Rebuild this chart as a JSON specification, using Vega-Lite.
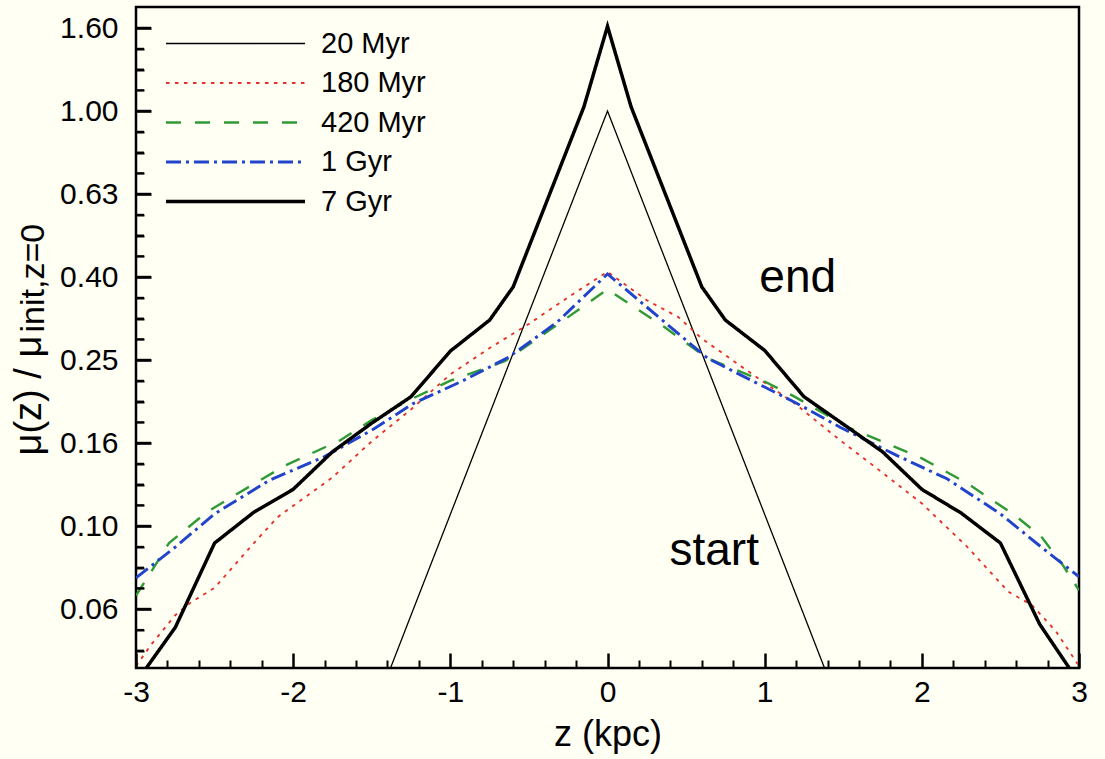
{
  "$schema": "https://vega.github.io/schema/vega-lite/v6.json",
  "width": 943,
  "height": 661,
  "autosize": {"type": "none"},
  "padding": {"left": 136, "top": 7, "right": 26, "bottom": 91},
  "background": "#fffff4",
  "config": {
    "font": "Liberation Sans",
    "view": {"stroke": "#000000", "strokeWidth": 2.5},
    "axis": {"domain": false, "grid": false, "labelColor": "#000000", "titleColor": "#000000", "tickColor": "#000000", "titleFontWeight": "normal", "labelFont": "Liberation Sans", "titleFont": "Liberation Sans"},
    "legend": {"labelFont": "Liberation Sans"}
  },
  "datasets": {
    "curves": [
      {"series": "20 Myr", "z": -1.5, "mu": 0.0348},
      {"series": "20 Myr", "z": -1.25, "mu": 0.061},
      {"series": "20 Myr", "z": -1.0, "mu": 0.1067},
      {"series": "20 Myr", "z": -0.75, "mu": 0.1866},
      {"series": "20 Myr", "z": -0.5, "mu": 0.3266},
      {"series": "20 Myr", "z": -0.25, "mu": 0.571},
      {"series": "20 Myr", "z": 0, "mu": 1.0},
      {"series": "20 Myr", "z": 0.25, "mu": 0.571},
      {"series": "20 Myr", "z": 0.5, "mu": 0.3266},
      {"series": "20 Myr", "z": 0.75, "mu": 0.1866},
      {"series": "20 Myr", "z": 1.0, "mu": 0.1067},
      {"series": "20 Myr", "z": 1.25, "mu": 0.061},
      {"series": "20 Myr", "z": 1.5, "mu": 0.0348},

      {"series": "180 Myr", "z": -3.0, "mu": 0.046},
      {"series": "180 Myr", "z": -2.9, "mu": 0.052},
      {"series": "180 Myr", "z": -2.75, "mu": 0.061},
      {"series": "180 Myr", "z": -2.65, "mu": 0.0655},
      {"series": "180 Myr", "z": -2.5, "mu": 0.071},
      {"series": "180 Myr", "z": -2.25, "mu": 0.091},
      {"series": "180 Myr", "z": -2.1, "mu": 0.105},
      {"series": "180 Myr", "z": -1.75, "mu": 0.131},
      {"series": "180 Myr", "z": -1.5, "mu": 0.16},
      {"series": "180 Myr", "z": -1.25, "mu": 0.191},
      {"series": "180 Myr", "z": -1.0, "mu": 0.232},
      {"series": "180 Myr", "z": -0.75, "mu": 0.2685},
      {"series": "180 Myr", "z": -0.5, "mu": 0.307},
      {"series": "180 Myr", "z": -0.25, "mu": 0.356},
      {"series": "180 Myr", "z": 0, "mu": 0.41},
      {"series": "180 Myr", "z": 0.25, "mu": 0.35},
      {"series": "180 Myr", "z": 0.45, "mu": 0.319},
      {"series": "180 Myr", "z": 0.6, "mu": 0.283},
      {"series": "180 Myr", "z": 0.93, "mu": 0.231},
      {"series": "180 Myr", "z": 1.19, "mu": 0.1975},
      {"series": "180 Myr", "z": 1.48, "mu": 0.161},
      {"series": "180 Myr", "z": 1.7, "mu": 0.139},
      {"series": "180 Myr", "z": 2.0, "mu": 0.1134},
      {"series": "180 Myr", "z": 2.29, "mu": 0.089},
      {"series": "180 Myr", "z": 2.55, "mu": 0.0695},
      {"series": "180 Myr", "z": 2.7, "mu": 0.0645},
      {"series": "180 Myr", "z": 2.85, "mu": 0.056},
      {"series": "180 Myr", "z": 3.0, "mu": 0.046},

      {"series": "420 Myr", "z": -3.0, "mu": 0.068},
      {"series": "420 Myr", "z": -2.9, "mu": 0.078},
      {"series": "420 Myr", "z": -2.79, "mu": 0.091},
      {"series": "420 Myr", "z": -2.55, "mu": 0.108},
      {"series": "420 Myr", "z": -2.35, "mu": 0.12},
      {"series": "420 Myr", "z": -2.05, "mu": 0.14},
      {"series": "420 Myr", "z": -1.7, "mu": 0.161},
      {"series": "420 Myr", "z": -1.5, "mu": 0.18},
      {"series": "420 Myr", "z": -1.24, "mu": 0.203},
      {"series": "420 Myr", "z": -1.0, "mu": 0.224},
      {"series": "420 Myr", "z": -0.65, "mu": 0.25},
      {"series": "420 Myr", "z": -0.35, "mu": 0.3},
      {"series": "420 Myr", "z": 0, "mu": 0.372},
      {"series": "420 Myr", "z": 0.36, "mu": 0.302},
      {"series": "420 Myr", "z": 0.635, "mu": 0.2536},
      {"series": "420 Myr", "z": 1.0, "mu": 0.223},
      {"series": "420 Myr", "z": 1.19, "mu": 0.205},
      {"series": "420 Myr", "z": 1.53, "mu": 0.173},
      {"series": "420 Myr", "z": 1.78, "mu": 0.158},
      {"series": "420 Myr", "z": 2.0, "mu": 0.1456},
      {"series": "420 Myr", "z": 2.29, "mu": 0.1267},
      {"series": "420 Myr", "z": 2.59, "mu": 0.1063},
      {"series": "420 Myr", "z": 2.76, "mu": 0.0943},
      {"series": "420 Myr", "z": 2.89, "mu": 0.0813},
      {"series": "420 Myr", "z": 3.0, "mu": 0.07},

      {"series": "1 Gyr", "z": -3.0, "mu": 0.075},
      {"series": "1 Gyr", "z": -2.75, "mu": 0.089},
      {"series": "1 Gyr", "z": -2.5, "mu": 0.107},
      {"series": "1 Gyr", "z": -2.15, "mu": 0.129},
      {"series": "1 Gyr", "z": -1.8, "mu": 0.147},
      {"series": "1 Gyr", "z": -1.48, "mu": 0.172},
      {"series": "1 Gyr", "z": -1.24, "mu": 0.197},
      {"series": "1 Gyr", "z": -0.93, "mu": 0.223},
      {"series": "1 Gyr", "z": -0.63, "mu": 0.255},
      {"series": "1 Gyr", "z": -0.32, "mu": 0.31},
      {"series": "1 Gyr", "z": 0, "mu": 0.405},
      {"series": "1 Gyr", "z": 0.21, "mu": 0.347},
      {"series": "1 Gyr", "z": 0.635, "mu": 0.254},
      {"series": "1 Gyr", "z": 0.93, "mu": 0.223},
      {"series": "1 Gyr", "z": 1.2, "mu": 0.198},
      {"series": "1 Gyr", "z": 1.48, "mu": 0.173},
      {"series": "1 Gyr", "z": 1.84, "mu": 0.148},
      {"series": "1 Gyr", "z": 2.16, "mu": 0.13},
      {"series": "1 Gyr", "z": 2.5, "mu": 0.107},
      {"series": "1 Gyr", "z": 2.76, "mu": 0.089},
      {"series": "1 Gyr", "z": 3.0, "mu": 0.0755},

      {"series": "7 Gyr", "z": -3.0, "mu": 0.042},
      {"series": "7 Gyr", "z": -2.75, "mu": 0.057},
      {"series": "7 Gyr", "z": -2.5, "mu": 0.091},
      {"series": "7 Gyr", "z": -2.25, "mu": 0.108},
      {"series": "7 Gyr", "z": -2.0, "mu": 0.1226},
      {"series": "7 Gyr", "z": -1.75, "mu": 0.151},
      {"series": "7 Gyr", "z": -1.5, "mu": 0.177},
      {"series": "7 Gyr", "z": -1.25, "mu": 0.205},
      {"series": "7 Gyr", "z": -1.0, "mu": 0.264},
      {"series": "7 Gyr", "z": -0.75, "mu": 0.3135},
      {"series": "7 Gyr", "z": -0.6, "mu": 0.377},
      {"series": "7 Gyr", "z": -0.15, "mu": 1.024},
      {"series": "7 Gyr", "z": 0, "mu": 1.6},
      {"series": "7 Gyr", "z": 0.15, "mu": 1.024},
      {"series": "7 Gyr", "z": 0.6, "mu": 0.377},
      {"series": "7 Gyr", "z": 0.75, "mu": 0.3135},
      {"series": "7 Gyr", "z": 1.0, "mu": 0.265},
      {"series": "7 Gyr", "z": 1.25, "mu": 0.205},
      {"series": "7 Gyr", "z": 1.5, "mu": 0.176},
      {"series": "7 Gyr", "z": 1.75, "mu": 0.151},
      {"series": "7 Gyr", "z": 2.0, "mu": 0.1226},
      {"series": "7 Gyr", "z": 2.25, "mu": 0.1075},
      {"series": "7 Gyr", "z": 2.5, "mu": 0.091},
      {"series": "7 Gyr", "z": 2.75, "mu": 0.058},
      {"series": "7 Gyr", "z": 3.0, "mu": 0.042}
    ],
    "notes": [
      {"label": "end", "z": 1.21, "mu": 0.366},
      {"label": "start", "z": 0.679, "mu": 0.0805}
    ],
    "yMajorTicks": [
      {"tick": 0.0631}, {"tick": 0.1}, {"tick": 0.1585}, {"tick": 0.2512}, {"tick": 0.3981}, {"tick": 0.631}, {"tick": 1}, {"tick": 1.585}
    ],
    "yMinorTicks": [
      {"tick": 1.4125}, {"tick": 1.2589}, {"tick": 1.122}, {"tick": 0.8913}, {"tick": 0.7943}, {"tick": 0.7079}, {"tick": 0.5623}, {"tick": 0.5012}, {"tick": 0.4467}, {"tick": 0.3548}, {"tick": 0.3162}, {"tick": 0.2818}, {"tick": 0.2239}, {"tick": 0.1995}, {"tick": 0.1778}, {"tick": 0.1413}, {"tick": 0.1259}, {"tick": 0.1122}, {"tick": 0.0891}, {"tick": 0.0794}, {"tick": 0.0708}, {"tick": 0.0562}, {"tick": 0.0501}
    ]
  },
  "layer": [
    {
      "data": {"name": "curves"},
      "mark": {"type": "line", "clip": true},
      "encoding": {
        "x": {
          "field": "z", "type": "quantitative",
          "scale": {"domain": [-3, 3], "nice": false, "zero": false},
          "axis": {"orient": "bottom", "offset": -15, "zindex": 1, "values": [-3, -2, -1, 0, 1, 2, 3], "labelExpr": "datum.value < 0 ? '-' + abs(datum.value) : '' + datum.value", "tickSize": 15, "tickWidth": 2.5, "labelFontSize": 30, "labelPadding": 9, "labelFlush": false, "labelOverlap": false, "title": "z (kpc)", "titleFontSize": 36, "titleY": 92, "titleBaseline": "alphabetic"}
        },
        "y": {
          "field": "mu", "type": "quantitative",
          "scale": {"type": "log", "domain": [0.0455, 1.781], "nice": false},
          "axis": {"orient": "left", "values": [0.0631, 0.1, 0.1585, 0.2512, 0.3981, 0.631, 1, 1.585], "labelExpr": "datum.value > 1.5 ? '1.60' : format(datum.value, '.2f')", "ticks": false, "tickSize": 0, "labelFontSize": 30, "labelPadding": 18, "labelOverlap": false, "labelFlush": false, "title": "μ(z) / μ", "titleFontSize": 38, "titleAngle": 270, "titleAlign": "left", "titleBaseline": "alphabetic", "titleX": -96, "titleY": 448}
        },
        "color": {
          "field": "series", "type": "nominal",
          "scale": {"domain": ["20 Myr", "180 Myr", "420 Myr", "1 Gyr", "7 Gyr"], "range": ["#000000", "#e8302a", "#2f9a35", "#2244cc", "#000000"]},
          "legend": {"title": null, "orient": "none", "legendX": 28, "legendY": 22, "symbolType": "stroke", "symbolSize": 19321, "clipHeight": 29, "labelFontSize": 29, "labelOffset": 14, "rowPadding": 9.5, "padding": 0, "labelColor": "#000000"}
        },
        "strokeDash": {
          "field": "series", "type": "nominal",
          "scale": {"domain": ["20 Myr", "180 Myr", "420 Myr", "1 Gyr", "7 Gyr"], "range": [[1, 0], [3.5, 5.5], [15, 14], [15, 5, 3, 5], [1, 0]]}
        },
        "strokeWidth": {
          "field": "series", "type": "nominal",
          "scale": {"domain": ["20 Myr", "180 Myr", "420 Myr", "1 Gyr", "7 Gyr"], "range": [1.3, 3.5, 2.3, 2.3, 4.2]}
        }
      }
    },
    {
      "data": {"name": "notes"},
      "mark": {"type": "text", "fontSize": 46, "font": "Liberation Sans", "baseline": "alphabetic", "align": "center", "color": "#000000"},
      "encoding": {
        "x": {
          "field": "z", "type": "quantitative",
          "axis": {"orient": "bottom", "offset": -8, "zindex": 1, "values": [-2.8, -2.6, -2.4, -2.2, -1.8, -1.6, -1.4, -1.2, -0.8, -0.6, -0.4, -0.2, 0.2, 0.4, 0.6, 0.8, 1.2, 1.4, 1.6, 1.8, 2.2, 2.4, 2.6, 2.8], "labels": false, "tickSize": 8, "tickWidth": 2, "title": null}
        },
        "y": {
          "field": "mu", "type": "quantitative",
          "axis": {"orient": "left", "values": [1], "labels": false, "ticks": false, "tickSize": 0, "title": "init,z=0", "titleFontSize": 34, "titleAngle": 270, "titleAlign": "left", "titleBaseline": "alphabetic", "titleX": -93, "titleY": 325}
        },
        "text": {"field": "label"}
      }
    },
    {
      "data": {"name": "yMajorTicks"},
      "mark": {"type": "rule", "color": "#000000", "strokeWidth": 2.5},
      "encoding": {
        "x": {"datum": -3, "type": "quantitative", "axis": null},
        "x2": {"datum": -2.904},
        "y": {"field": "tick", "type": "quantitative", "axis": {"orient": "right", "offset": -943, "zindex": 1, "values": [0.0631, 0.1, 0.1585, 0.2512, 0.3981, 0.631, 1, 1.585], "labels": false, "ticks": true, "tickSize": 15, "tickWidth": 2.5, "tickColor": "#000000", "title": null}}
      }
    },
    {
      "data": {"name": "yMinorTicks"},
      "mark": {"type": "rule", "color": "#000000", "strokeWidth": 2},
      "encoding": {
        "x": {"datum": -3, "type": "quantitative", "axis": null},
        "x2": {"datum": -2.949},
        "y": {"field": "tick", "type": "quantitative", "axis": {"orient": "right", "offset": -943, "zindex": 1, "values": [1.4125, 1.2589, 1.122, 0.8913, 0.7943, 0.7079, 0.5623, 0.5012, 0.4467, 0.3548, 0.3162, 0.2818, 0.2239, 0.1995, 0.1778, 0.1413, 0.1259, 0.1122, 0.0891, 0.0794, 0.0708, 0.0562, 0.0501], "labels": false, "ticks": true, "tickSize": 8, "tickWidth": 2, "tickColor": "#000000", "title": null}}
      }
    }
  ],
  "resolve": {"axis": {"x": "independent", "y": "independent"}}
}
